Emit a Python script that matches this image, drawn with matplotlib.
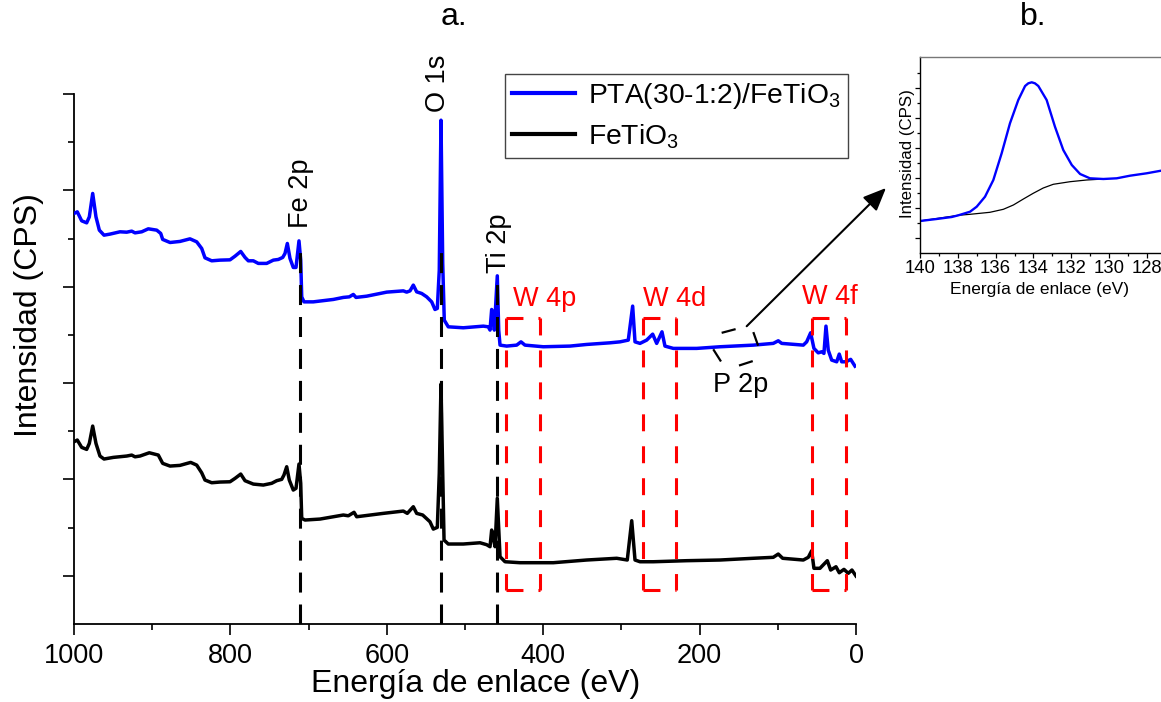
import numpy as np
import matplotlib
matplotlib.use("Agg")
import matplotlib.pyplot as plt
from matplotlib.ticker import FixedLocator

plt.rcParams['font.family'] = ['Liberation Sans', 'DejaVu Sans']
plt.rcParams['mathtext.fontset'] = 'custom'
plt.rcParams['mathtext.rm'] = 'Liberation Sans'
plt.rcParams['mathtext.it'] = 'Liberation Sans:italic'
plt.rcParams['lines.scale_dashes'] = False

# ---------------- survey spectra (binding energy in eV, intensity in a.u.) ----------------
energy_pta = [1000.0, 995.8, 990.2, 983.8, 980.4, 976.1, 971.9, 967.6, 961.6, 954.0,
              941.2, 932.6, 926.2, 922.0, 913.4, 905.0, 894.2, 889.1, 886.6, 877.2,
              864.5, 851.7, 843.1, 836.7, 832.5, 823.9, 813.3, 800.5, 794.1, 786.8,
              781.3, 777.1, 770.7, 764.3, 753.6, 745.1, 738.7, 733.1, 730.2, 727.2,
              723.8, 719.6, 716.1, 712.3, 710.1, 708.8, 705.9, 694.0, 668.4, 655.6,
              647.9, 642.8, 639.4, 625.7, 600.1, 578.9, 574.6, 570.3, 566.1, 561.8,
              555.4, 549.0, 542.6, 538.4, 535.4, 532.9, 530.7, 528.5, 526.5, 521.4,
              502.2, 476.6, 470.2, 468.0, 465.9, 463.8, 462.5, 458.7, 456.9, 455.2,
              446.7, 433.9, 428.4, 423.3, 399.9, 365.7, 344.4, 314.6, 301.8, 291.2,
              285.6, 282.6, 276.2, 267.7, 260.0, 254.9, 248.1, 244.3, 233.6, 203.7,
              173.9, 131.3, 105.8, 99.4, 95.0, 67.4, 63.1, 58.0, 53.8, 48.3,
              43.9, 41.0, 38.4, 35.5, 31.1, 24.7, 21.4, 18.3, 12.8, 6.8, 1.3]
intensity_pta = [42.60, 42.77, 41.84, 41.63, 42.25, 44.68, 42.25, 40.87, 40.35, 40.46,
                 40.70, 40.66, 40.77, 40.59, 40.70, 41.01, 40.87, 40.53, 39.91, 39.59,
                 39.70, 39.97, 39.66, 38.97, 38.00, 37.69, 37.76, 37.79, 38.17, 38.66,
                 38.04, 37.69, 37.69, 37.42, 37.42, 37.76, 37.83, 38.04, 38.45, 39.49,
                 37.94, 37.00, 37.00, 39.76, 37.76, 33.95, 33.43, 33.43, 33.68, 33.89,
                 33.95, 34.20, 33.89, 34.02, 34.44, 34.57, 34.44, 34.57, 35.17, 34.47,
                 34.30, 33.95, 33.43, 32.64, 32.75, 36.72, 52.28, 37.42, 31.53, 30.84,
                 30.74, 30.91, 30.84, 30.50, 32.64, 31.88, 30.50, 36.13, 30.50, 28.94,
                 28.84, 28.94, 29.28, 28.94, 28.77, 28.84, 29.01, 29.18, 29.28, 29.46,
                 32.99, 29.28, 29.12, 29.46, 30.08, 29.12, 30.32, 28.84, 28.60, 28.60,
                 28.77, 28.94, 29.12, 29.39, 29.12, 28.94, 29.28, 30.22, 28.60, 28.14,
                 28.25, 28.08, 30.91, 28.42, 27.39, 27.21, 28.01, 27.21, 27.21, 27.46, 26.76]

energy_fto = [1000.0, 995.8, 990.2, 983.8, 980.4, 976.1, 971.9, 966.8, 961.6, 949.7,
              932.6, 926.2, 922.0, 915.6, 903.7, 892.2, 886.6, 877.2, 864.5, 850.8,
              843.1, 836.7, 832.5, 823.9, 813.3, 800.5, 794.1, 786.8, 781.3, 770.7,
              757.9, 747.2, 740.8, 734.4, 731.5, 728.0, 724.7, 719.6, 716.1, 712.3,
              710.1, 708.8, 704.6, 685.4, 655.6, 649.2, 641.9, 638.5, 604.5, 578.9,
              573.8, 566.1, 561.8, 554.1, 544.8, 540.5, 535.4, 532.9, 530.7, 528.5,
              526.8, 521.4, 502.2, 480.8, 472.3, 468.0, 465.9, 463.8, 461.6, 458.7,
              455.2, 448.8, 429.7, 387.1, 344.4, 306.0, 292.5, 286.8, 282.6, 276.2,
              259.2, 216.5, 173.9, 131.3, 105.8, 99.4, 93.8, 67.4, 61.0, 56.7,
              53.8, 46.1, 36.7, 32.4, 25.6, 21.4, 15.4, 9.9, 5.2, 0.0]
intensity_fto = [18.91, 19.09, 18.33, 18.12, 18.74, 20.54, 18.74, 17.43, 17.12, 17.29,
                 17.43, 17.53, 17.35, 17.43, 17.77, 17.53, 16.67, 16.39, 16.46, 16.77,
                 16.49, 15.69, 14.94, 14.66, 14.73, 14.76, 15.11, 15.56, 14.87, 14.52,
                 14.42, 14.60, 14.87, 15.01, 15.46, 16.32, 14.94, 13.90, 14.08, 16.60,
                 14.60, 10.96, 10.79, 10.89, 11.31, 11.23, 11.59, 11.13, 11.48, 11.72,
                 11.48, 12.17, 11.48, 11.31, 10.61, 9.85, 10.03, 15.63, 24.90, 15.63,
                 8.71, 8.30, 8.30, 8.43, 8.23, 8.02, 9.75, 8.92, 8.02, 13.04,
                 6.98, 6.46, 6.36, 6.36, 6.64, 6.82, 6.64, 10.72, 6.64, 6.46,
                 6.46, 6.57, 6.64, 6.82, 6.92, 7.26, 6.82, 6.64, 6.92, 7.60,
                 5.78, 5.78, 6.57, 5.60, 5.94, 5.32, 5.67, 5.26, 5.60, 4.98]

# core-level markers
core_labels = ['Fe 2p', 'O 1s', 'Ti 2p']
core_energy = [711, 531, 459]
core_line_top = [39.1, 38.6, 35.4]
core_label_pos = [(700.8, 41.1), (525.6, 53.1), (447.6, 36.4)]

# tungsten regions
w_labels = ['W 4p', 'W 4d', 'W 4f']
w_ranges = [(447, 404), (273, 230), (56, 13)]
w_label_pos = [(439, 33.0), (272, 33.0), (69.4, 33.2)]
w_box_top, w_box_bottom = 31.8, 3.5

# P 2p highlighted window (corners, eV / a.u.)
p2p_corner_energy = [192.4, 134.5, 119.6, 166.0]
p2p_corner_intensity = [29.77, 31.02, 27.61, 26.39]
p2p_label_pos = (183.3, 24.1)

# ---------------- P 2p high resolution ----------------
hr_energy = [140.00, 139.12, 138.32, 137.97, 137.35, 137.00, 136.56, 136.12, 135.68, 135.24,
             134.80, 134.44, 134.27, 134.09, 133.92, 133.74, 133.30, 132.86, 132.42, 131.97,
             131.53, 131.01, 130.30, 129.59, 128.89, 128.01, 127.25]
hr_intensity = [32.0, 34.0, 36.0, 37.7, 41.3, 46.3, 56.3, 73.0, 99.7, 129.7,
                153.0, 167.0, 169.7, 170.7, 169.7, 167.0, 153.0, 126.3, 103.0, 88.0,
                79.0, 74.7, 74.0, 74.7, 77.3, 79.7, 82.3]
bg_energy = [140.00, 137.97, 137.35, 136.30, 135.59, 135.06, 134.53, 134.01, 133.48, 132.95,
             132.06, 131.18, 130.30]
bg_intensity = [32.0, 37.7, 38.7, 40.7, 43.7, 48.0, 54.0, 59.7, 65.0, 68.7,
                71.3, 73.0, 74.0]

W, H = 1161, 702
fig = plt.figure(figsize=(W / 100, H / 100), dpi=100)

# ---------------- survey axes ----------------
ax = fig.add_axes([74 / W, 1 - 624 / H, (856 - 74) / W, (624 - 94) / H])
ax.plot(energy_pta, intensity_pta, color='#0000FF', lw=2.5, solid_joinstyle='round',
        label='PTA(30-1:2)/FeTiO$_3$', zorder=3)
ax.plot(energy_fto, intensity_fto, color='black', lw=2.5, solid_joinstyle='round',
        label='FeTiO$_3$', zorder=3)
ax.set_xlim(1000, 0)
ax.set_ylim(0, 55)
for s in ('top', 'right'):
    ax.spines[s].set_visible(False)
for s in ('left', 'bottom'):
    ax.spines[s].set_linewidth(1.3)
ax.xaxis.set_major_locator(FixedLocator([0, 200, 400, 600, 800, 1000]))
ax.xaxis.set_minor_locator(FixedLocator([100, 300, 500, 700, 900]))
ax.yaxis.set_major_locator(FixedLocator([5, 15, 25, 35, 45, 55]))
ax.yaxis.set_minor_locator(FixedLocator([10, 20, 30, 40, 50]))
ax.tick_params(which='major', direction='out', length=8, width=1.2, labelsize=19.5, pad=5.5)
ax.tick_params(which='minor', direction='out', length=4.5, width=1.2)
ax.tick_params(axis='y', labelleft=False)
ax.set_xlabel('Energía de enlace (eV)', fontsize=23)
ax.xaxis.set_label_coords((476 - 74) / 782, -(669 - 624) / 530)
ax.set_ylabel('Intensidad (CPS)', fontsize=23)
ax.yaxis.set_label_coords((44 - 74) / 782, (624 - 315) / 530)

# core-level guide lines and labels
for lab, e, top, (tx, ty) in zip(core_labels, core_energy, core_line_top, core_label_pos):
    ax.plot([e, e], [0, top], color='black', lw=2.2, ls=(0, (14.4, 8.6)), zorder=4)
    ax.text(tx, ty, lab, rotation=90, rotation_mode='anchor', ha='left', va='baseline',
            fontsize=19.5, color='black', clip_on=False)

# tungsten windows
red_dash = (0, (12.2, 10.8))
for lab, (left, right), (tx, ty) in zip(w_labels, w_ranges, w_label_pos):
    for x in (left, right):
        ax.plot([x, x], [w_box_top, w_box_bottom], color='#FF0000', lw=2.2, ls=red_dash, zorder=4)
    for y in (w_box_top, w_box_bottom):
        ax.plot([left, right], [y, y], color='#FF0000', lw=2.2, ls=red_dash, zorder=4)
    ax.text(tx, ty, lab, ha='left', va='baseline', fontsize=19.5, color='#FF0000')

# P 2p window
pe = p2p_corner_energy + p2p_corner_energy[:1]
pi = p2p_corner_intensity + p2p_corner_intensity[:1]
ax.plot(pe, pi, color='black', lw=1.6, ls=(15.1, (10.4, 16.7)), zorder=4)
ax.text(p2p_label_pos[0], p2p_label_pos[1], 'P 2p', ha='left', va='baseline',
        fontsize=19.5, color='black')

leg = ax.legend(loc='upper left', bbox_to_anchor=(505 / W, 1 - 74 / H),
                bbox_transform=fig.transFigure, borderaxespad=0, fontsize=20.3,
                handlelength=2.25, handletextpad=0.45, borderpad=0.25, labelspacing=0.4,
                fancybox=False, framealpha=1, edgecolor='#444444')
leg.get_frame().set_linewidth(1.0)
for ln in leg.get_lines():
    ln.set_linewidth(3)

fig.text(454 / W, 1 - 17 / H, 'a.', ha='center', va='center', fontsize=23)
fig.text(1033 / W, 1 - 17 / H, 'b.', ha='center', va='center', fontsize=23)

# ---------------- P 2p inset ----------------
ins = fig.add_axes([920 / W, 1 - 253 / H, (1161 - 920) / W, (253 - 57) / H])
ins.plot(bg_energy, bg_intensity, color='black', lw=0.9)
ins.plot(hr_energy, hr_intensity, color='#0000FF', lw=1.7)
ins.set_xlim(140, 127.25)
ins.set_ylim(0, 196)
ins.spines['right'].set_visible(False)
ins.spines['top'].set_color('#777777')
for s in ('left', 'bottom', 'top'):
    ins.spines[s].set_linewidth(1.0)
ins.xaxis.set_major_locator(FixedLocator([140, 138, 136, 134, 132, 130, 128]))
ins.xaxis.set_minor_locator(FixedLocator([139, 137, 135, 133, 131, 129]))
ins.yaxis.set_major_locator(FixedLocator([15, 45, 75, 105, 135, 165]))
ins.yaxis.set_minor_locator(FixedLocator([30, 60, 90, 120, 150, 180]))
ins.tick_params(which='major', direction='out', length=3.5, width=0.9, labelsize=13.3, pad=1.8)
ins.tick_params(which='minor', direction='out', length=2, width=0.9)
ins.tick_params(axis='y', labelleft=False)
ins.set_xlabel('Energía de enlace (eV)', fontsize=12.5)
ins.xaxis.set_label_coords((1040 - 920) / 241, -(282 - 253) / 196)
ins.set_ylabel('Intensidad (CPS)', fontsize=12.2)
ins.yaxis.set_label_coords((915 - 920) / 241, (253 - 154) / 196)

# arrow from the P 2p window to the inset
ax.annotate('', xy=(141.80, 65), xycoords=ins.transData,
            xytext=(139.8, 30.9), textcoords=ax.transData,
            arrowprops=dict(arrowstyle='-|>,head_length=0.7,head_width=0.3', lw=1.5,
                            color='black', shrinkA=0, shrinkB=0, mutation_scale=20),
            annotation_clip=False)

fig.savefig('out.png', dpi=100)
